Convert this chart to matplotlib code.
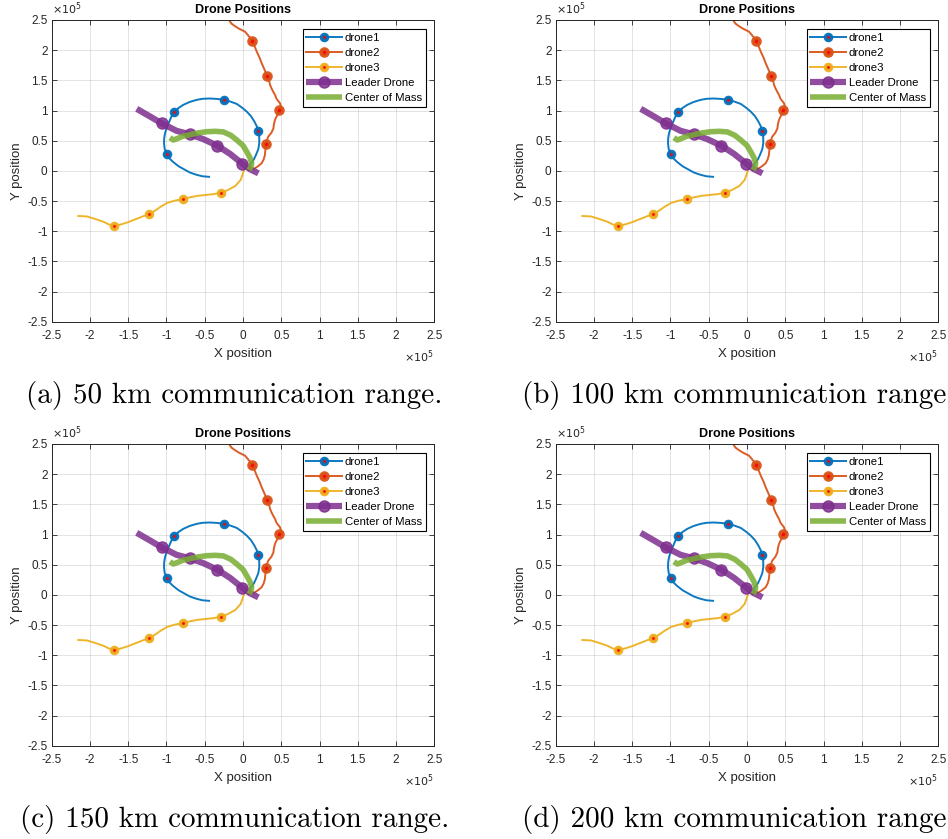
import matplotlib
matplotlib.use("Agg")
import matplotlib.pyplot as plt

# ---- data (units of 1e5) ----
drone1_x = [-0.444, -0.530, -0.605, -0.690, -0.758, -0.840, -0.910, -0.965, -0.997, -1.025, -1.032, -1.030, -1.019,
            -0.995, -0.963, -0.935, -0.897, -0.845, -0.780, -0.700, -0.605, -0.520, -0.431, -0.340, -0.248, -0.165,
            -0.083, -0.015, 0.048, 0.105, 0.148, 0.180, 0.200, 0.212, 0.213, 0.200, 0.170, 0.140, 0.100, 0.070]
drone1_y = [-0.099, -0.090, -0.066, -0.030, 0.017, 0.075, 0.144, 0.210, 0.282, 0.370, 0.459, 0.540, 0.624,
            0.720, 0.818, 0.900, 0.972, 1.040, 1.094, 1.140, 1.177, 1.195, 1.199, 1.192, 1.177, 1.148,
            1.110, 1.050, 0.983, 0.905, 0.818, 0.740, 0.663, 0.560, 0.459, 0.360, 0.265, 0.185, 0.116, 0.061]
drone1_marks = [8, 16, 24, 32]

drone2_x = [-0.215, -0.192, -0.150, -0.126, -0.061, 0.027, 0.092, 0.122, 0.150, 0.180, 0.215, 0.245, 0.280, 0.314,
            0.340, 0.354, 0.375, 0.400, 0.419, 0.440, 0.484, 0.497, 0.476, 0.450, 0.418, 0.405, 0.397, 0.370,
            0.331, 0.296, 0.293, 0.287, 0.270, 0.244, 0.200, 0.157, 0.110, 0.070]
drone2_y = [2.560, 2.517, 2.440, 2.417, 2.362, 2.306, 2.207, 2.157, 2.070, 1.975, 1.880, 1.782, 1.680, 1.577,
            1.500, 1.423, 1.360, 1.300, 1.257, 1.190, 1.119, 1.060, 1.003, 0.930, 0.845, 0.780, 0.700, 0.630,
            0.569, 0.448, 0.360, 0.265, 0.190, 0.127, 0.080, 0.044, 0.025, 0.017]
drone2_marks = [7, 13, 22, 29]

drone3_x = [-2.152, -2.043, -1.956, -1.825, -1.750, -1.682, -1.600, -1.500, -1.420, -1.300, -1.224, -1.150,
            -1.085, -0.990, -0.880, -0.788, -0.700, -0.600, -0.475, -0.380, -0.291, -0.200, -0.100, -0.030,
            0.000, 0.010]
drone3_y = [-0.748, -0.755, -0.787, -0.843, -0.890, -0.914, -0.890, -0.850, -0.810, -0.750, -0.715, -0.660,
            -0.602, -0.530, -0.490, -0.472, -0.440, -0.415, -0.398, -0.385, -0.362, -0.320, -0.250, -0.150,
            -0.040, 0.010]
drone3_marks = [5, 10, 15, 20]

leader_x = [-1.389, -1.215, -1.062, -0.867, -0.692, -0.518, -0.335, -0.170, -0.009, 0.091, 0.201]
leader_y = [1.028, 0.901, 0.787, 0.663, 0.605, 0.525, 0.417, 0.282, 0.119, 0.028, -0.041]
leader_marks = [2, 4, 6, 8]

com_x = [-0.954, -0.910, -0.850, -0.780, -0.692, -0.580, -0.474, -0.360, -0.257, -0.160, -0.082, 0.000,
         0.049, 0.090, 0.114, 0.100, 0.080]
com_y = [0.550, 0.511, 0.540, 0.575, 0.600, 0.630, 0.649, 0.655, 0.645, 0.590, 0.511, 0.420,
         0.317, 0.220, 0.125, 0.060, 0.014]

ticks = [-2.5, -2, -1.5, -1, -0.5, 0, 0.5, 1, 1.5, 2, 2.5]
tick_labels = ["-2.5", "-2", "-1.5", "-1", "-0.5", "0", "0.5", "1", "1.5", "2", "2.5"]
captions = ["(a) 50 km communication range.", "(b) 100 km communication range.",
            "(c) 150 km communication range.", "(d) 200 km communication range."]
title = "Drone Positions"

# ---- style ----
C_BLUE = "#0072BD"
C_ORANGE = "#D95319"
C_YELLOW = "#EDB120"
C_PURPLE = "#7E2F8E"
C_GREEN = "#77AC30"
TXT = "#262626"

plt.rcParams["font.family"] = ["Liberation Sans", "DejaVu Sans"]

W, H = 948, 839
fig = plt.figure(figsize=(W / 100, H / 100), dpi=100)

# axes rectangles in pixels: left, top, right, bottom
rects = [(51.7, 20, 434.3, 321.7), (555.7, 20, 938.3, 321.7),
         (51.7, 444, 434.3, 745.7), (555.7, 444, 938.3, 745.7)]
cap_y = [395, 395, 819, 819]

for i, (l, t, r, b) in enumerate(rects):
    ax = fig.add_axes([l / W, 1 - b / H, (r - l) / W, (b - t) / H])
    ax.plot(drone1_x, drone1_y, color=C_BLUE, lw=1.4, marker="o", ms=4.5, mew=2.4,
            mec=C_BLUE, mfc="red", markevery=drone1_marks, label="drone1", alpha=0.95)
    ax.plot(drone2_x, drone2_y, color=C_ORANGE, lw=1.4, marker="o", ms=5, mew=2.6,
            mec=C_ORANGE, mfc="red", markevery=drone2_marks, label="drone2", alpha=0.95)
    ax.plot(drone3_x, drone3_y, color=C_YELLOW, lw=1.4, marker="o", ms=4.5, mew=2.4,
            mec=C_YELLOW, mfc="red", markevery=drone3_marks, label="drone3", alpha=0.95)
    ax.plot(leader_x, leader_y, color=C_PURPLE, lw=4.5, marker="o", ms=8,
            mec=C_PURPLE, mfc=C_PURPLE, markevery=leader_marks, label="Leader Drone",
            alpha=0.85, solid_capstyle="butt")
    ax.plot(com_x, com_y, color=C_GREEN, lw=4.0, label="Center of Mass", alpha=0.85,
            solid_capstyle="butt")

    ax.set_xlim(-2.5, 2.5)
    ax.set_ylim(-2.5, 2.5)
    ax.set_xticks(ticks)
    ax.set_yticks(ticks)
    ax.set_xticklabels(tick_labels)
    ax.set_yticklabels(tick_labels)
    ax.tick_params(direction="in", top=True, right=True, length=3.5, width=0.6,
                   labelsize=8.5, colors=TXT)
    ax.tick_params(axis="x", pad=6)
    ax.tick_params(axis="y", pad=3)
    for sp in ax.spines.values():
        sp.set_color(TXT)
        sp.set_linewidth(0.7)
    ax.grid(True, color=TXT, alpha=0.15, lw=0.6)
    ax.set_axisbelow(True)
    ax.set_title(title, fontsize=9, fontweight="bold", color="black", pad=5)
    ax.set_xlabel("X position", fontsize=9.5, color=TXT, labelpad=4)
    ax.set_ylabel("Y position", fontsize=9.5, color=TXT, labelpad=3)
    ax.text(0.0, 1.01, r"$\times10^{5}$", transform=ax.transAxes, fontsize=8,
            color=TXT, ha="left", va="bottom")
    ax.text(1.0, -0.088, r"$\times10^{5}$", transform=ax.transAxes, fontsize=8,
            color=TXT, ha="right", va="top")

    leg = ax.legend(loc="upper right", fontsize=8.2, frameon=True, fancybox=False,
                    edgecolor="black", framealpha=1, borderpad=0.35, labelspacing=0.45,
                    handlelength=3.1, handletextpad=0.25, borderaxespad=0.75)
    leg.get_frame().set_linewidth(0.8)

    cx = l + 182.5
    fig.text(cx / W, 1 - cap_y[i] / H, captions[i], fontsize=21, family="cmr10",
             ha="center", va="center", color="black")

fig.savefig("out.png", dpi=100)
